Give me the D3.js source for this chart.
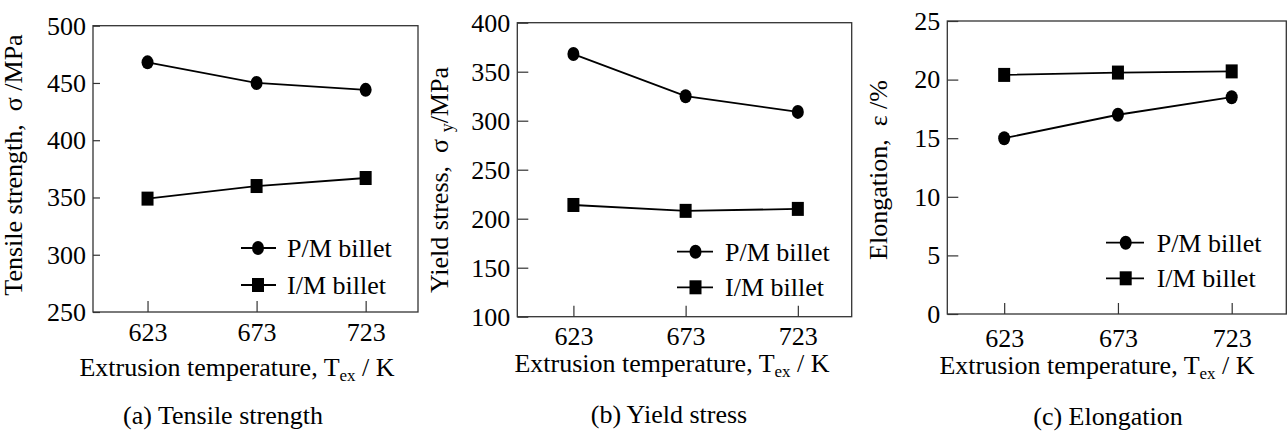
<!DOCTYPE html>
<html><head><meta charset="utf-8">
<script src="https://cdn.jsdelivr.net/npm/d3@7"></script>
<style>
body{margin:0;background:#fff;}
svg{display:block;}
text{font-family:"Liberation Serif","Times New Roman",serif;fill:#000;white-space:pre;}
</style>
</head><body>
<svg id="chart" width="1287" height="432"></svg>
<script>
// ---- data ----
const temps = [623, 673, 723];
const tempLabels = ["623", "673", "723"];
const seriesNames = ["P/M billet", "I/M billet"];
const tensilePM = [468, 450, 444];
const tensileIM = [349, 360, 367];
const tensileTicks = [250, 300, 350, 400, 450, 500];
const yieldPM = [368, 325, 309];
const yieldIM = [214, 208, 210];
const yieldTicks = [100, 150, 200, 250, 300, 350, 400];
const elongPM = [15, 17, 18.5];
const elongIM = [20.4, 20.6, 20.7];
const elongTicks = [0, 5, 10, 15, 20, 25];
const panelTitles = ["(a) Tensile strength", "(b) Yield stress", "(c) Elongation"];
const yTitles = [
  [["Tensile strength,\u00A0\u00A0σ\u00A0/MPa", 0]],
  [["Yield stress,\u00A0\u00A0σ\u00A0", 0], ["y", 1], ["/MPa", 0]],
  [["Elongation,\u00A0\u00A0ε\u00A0/%", 0]]
];
const xTitleParts = [["Extrusion temperature, T", 0], ["ex", 1], ["\u00A0/ K", 0]];

// ---- layout ----
const panels = [
  {pm: tensilePM, im: tensileIM, ticks: tensileTicks, x0: 93, x1: 418, y0: 25.7, y1: 312, tick: 7,
   ytx: 22, yty: 165, lg: {x1: 241, x2: 276, mx: 258, y: 248, dy: 37, tx: 287},
   xly: 332, xt: {x: 237, y: 376}, pt: {x: 223, y: 415}},
  {pm: yieldPM, im: yieldIM, ticks: yieldTicks, x0: 517.3, x1: 851.7, y0: 22.7, y1: 316.7, tick: 11,
   ytx: 448, yty: 180, lg: {x1: 677, x2: 713, mx: 695.5, y: 251.7, dy: 35.6, tx: 725},
   xly: 335.5, xt: {x: 672, y: 371.5}, pt: {x: 669, y: 413.5}},
  {pm: elongPM, im: elongIM, ticks: elongTicks, x0: 947.3, x1: 1286.3, y0: 21, y1: 314, tick: 11,
   ytx: 887, yty: 170, lg: {x1: 1106, x2: 1144, mx: 1125.7, y: 242.7, dy: 35.6, tx: 1156.7},
   xly: 337.5, xt: {x: 1097, y: 374}, pt: {x: 1108, y: 415.5}}
];

const svg = d3.select("#chart");
const FS = 26;

function circleMarker(g, x, y) {
  g.append("ellipse").attr("cx", x).attr("cy", y).attr("rx", 6).attr("ry", 7).attr("fill", "#000");
}
function squareMarker(g, x, y) {
  g.append("rect").attr("x", x - 6).attr("y", y - 7).attr("width", 12).attr("height", 14).attr("fill", "#000");
}

panels.forEach((p, i) => {
  const g = svg.append("g");
  const x = d3.scaleLinear().domain([598, 747]).range([p.x0, p.x1]);
  const y = d3.scaleLinear().domain(d3.extent(p.ticks)).range([p.y1, p.y0]);

  // box
  g.append("rect").attr("x", p.x0).attr("y", p.y0).attr("width", p.x1 - p.x0).attr("height", p.y1 - p.y0)
    .attr("fill", "none").attr("stroke", "#333").attr("stroke-width", 1.3);

  // y axis
  const ya = g.append("g").attr("transform", `translate(${p.x0},0)`)
    .call(d3.axisLeft(y).tickValues(p.ticks).tickSize(-p.tick).tickPadding(7).tickFormat(d3.format("d")));
  ya.select(".domain").remove();
  ya.selectAll("line").attr("stroke", "#333").attr("stroke-width", 1.2);
  ya.selectAll("text").attr("font-size", FS).attr("font-family", "Liberation Serif").attr("fill", "#000");

  // x axis
  const xa = g.append("g").attr("transform", `translate(0,${p.y1})`)
    .call(d3.axisBottom(x).tickValues(temps).tickSize(-11).tickFormat((d, k) => tempLabels[k]));
  xa.select(".domain").remove();
  xa.selectAll("line").attr("stroke", "#333").attr("stroke-width", 1.2);
  xa.selectAll("text").attr("font-size", FS).attr("font-family", "Liberation Serif").attr("fill", "#000")
    .attr("y", p.xly - p.y1).attr("dy", "0.35em");

  // series
  const line = d3.line().x((d, k) => x(temps[k])).y(d => y(d));
  [p.pm, p.im].forEach((s, si) => {
    g.append("path").attr("d", line(s)).attr("fill", "none").attr("stroke", "#000").attr("stroke-width", 1.8);
    s.forEach((v, k) => (si === 0 ? circleMarker : squareMarker)(g, x(temps[k]), y(v)));
  });

  // legend
  seriesNames.forEach((name, si) => {
    const ly = p.lg.y + si * p.lg.dy;
    g.append("line").attr("x1", p.lg.x1).attr("x2", p.lg.x2).attr("y1", ly).attr("y2", ly)
      .attr("stroke", "#000").attr("stroke-width", 1.8);
    (si === 0 ? circleMarker : squareMarker)(g, p.lg.mx, ly);
    g.append("text").attr("x", p.lg.tx).attr("y", ly).attr("dy", "0.35em").attr("font-size", FS).text(name);
  });

  // y title
  const yt = g.append("text").attr("transform", `translate(${p.ytx},${p.yty}) rotate(-90)`)
    .attr("text-anchor", "middle").attr("dy", "0.35em").attr("font-size", FS);
  yTitles[i].forEach(([t, sub], k) => {
    yt.append("tspan").attr("font-size", sub ? 18 : FS).attr("dy", sub ? 5 : (k > 0 ? -5 : 0)).text(t);
  });

  // x title
  const xt = g.append("text").attr("x", p.xt.x).attr("y", p.xt.y).attr("dy", "0.35em")
    .attr("text-anchor", "middle").attr("font-size", FS);
  xTitleParts.forEach(([t, sub], k) => {
    xt.append("tspan").attr("font-size", sub ? 17 : FS).attr("dy", sub ? 5 : (k > 0 ? -5 : 0)).text(t);
  });

  // panel title
  g.append("text").attr("x", p.pt.x).attr("y", p.pt.y).attr("dy", "0.35em").attr("text-anchor", "middle")
    .attr("font-size", FS).text(panelTitles[i]);
});
</script>
</body></html>
